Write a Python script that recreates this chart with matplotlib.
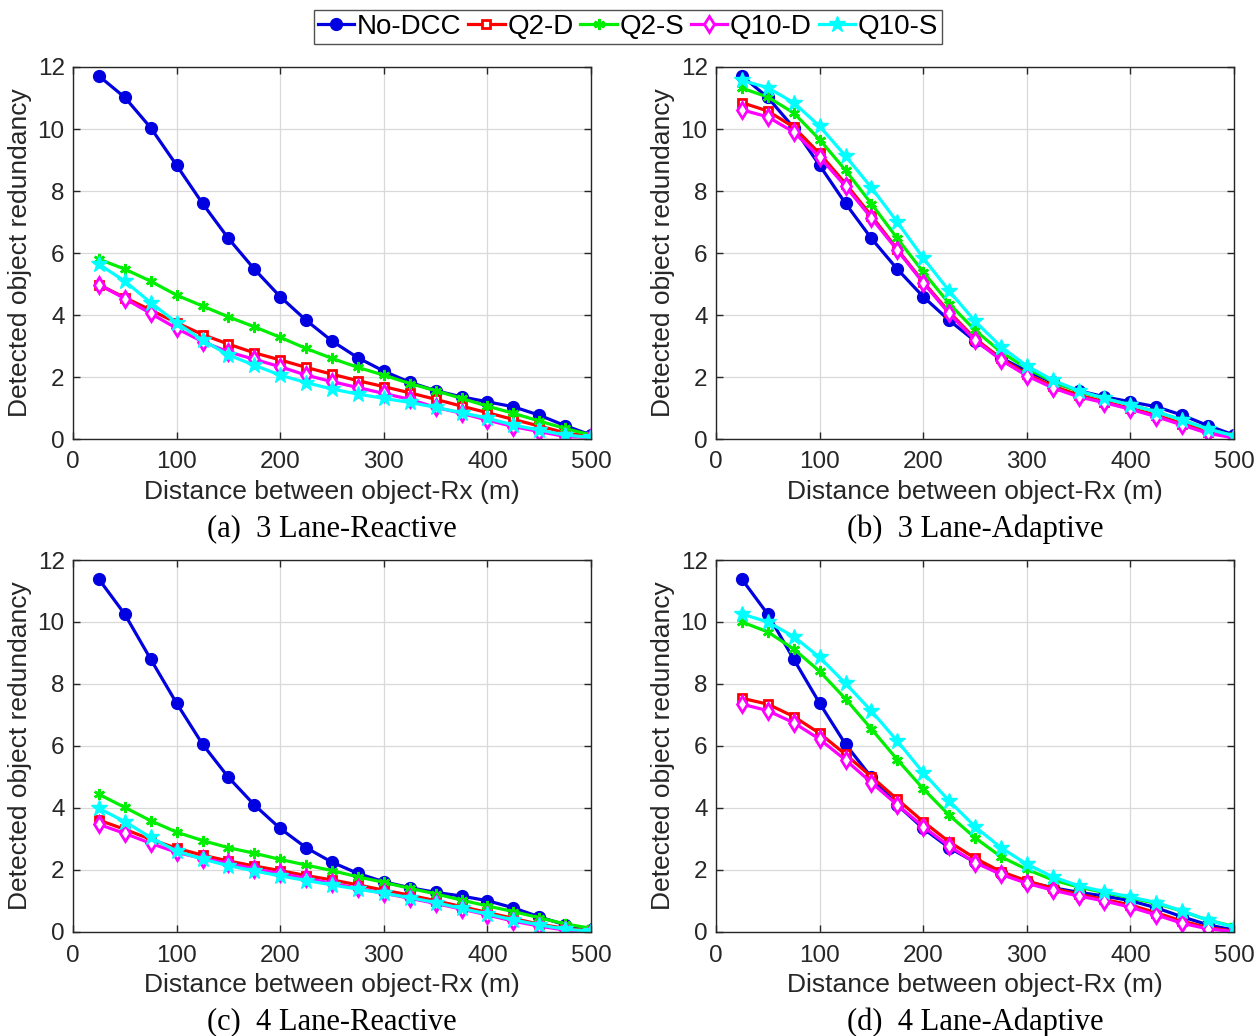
import matplotlib
matplotlib.use("Agg")
import matplotlib.pyplot as plt
from matplotlib.lines import Line2D

distance = [25, 50, 75, 100, 125, 150, 175, 200, 225, 250, 275, 300, 325, 350, 375, 400, 425, 450, 475, 500]
series_names = ["No-DCC", "Q2-D", "Q2-S", "Q10-D", "Q10-S"]

# (a) 3 Lane-Reactive
a_nodcc = [11.71, 11.02, 10.04, 8.83, 7.60, 6.47, 5.48, 4.59, 3.83, 3.16, 2.62, 2.19, 1.83, 1.56, 1.36, 1.20, 1.04, 0.77, 0.43, 0.13]
a_q2d = [4.98, 4.56, 4.16, 3.75, 3.37, 3.06, 2.78, 2.55, 2.31, 2.09, 1.88, 1.69, 1.49, 1.28, 1.06, 0.85, 0.63, 0.42, 0.20, 0.08]
a_q2s = [5.80, 5.48, 5.09, 4.64, 4.29, 3.94, 3.62, 3.28, 2.92, 2.60, 2.31, 2.06, 1.79, 1.56, 1.31, 1.06, 0.83, 0.58, 0.34, 0.13]
a_q10d = [4.98, 4.53, 4.05, 3.57, 3.14, 2.81, 2.57, 2.33, 2.06, 1.85, 1.66, 1.47, 1.28, 1.02, 0.83, 0.61, 0.40, 0.24, 0.08, 0.05]
a_q10s = [5.64, 5.09, 4.40, 3.75, 3.19, 2.71, 2.38, 2.06, 1.82, 1.61, 1.45, 1.31, 1.18, 1.02, 0.85, 0.67, 0.45, 0.29, 0.13, 0.05]

# (b) 3 Lane-Adaptive
b_nodcc = [11.71, 11.02, 10.04, 8.83, 7.60, 6.47, 5.48, 4.59, 3.83, 3.16, 2.62, 2.19, 1.83, 1.56, 1.36, 1.20, 1.04, 0.77, 0.43, 0.13]
b_q2d = [10.85, 10.58, 10.06, 9.21, 8.24, 7.20, 6.12, 5.07, 4.10, 3.24, 2.60, 2.09, 1.71, 1.42, 1.20, 0.99, 0.77, 0.50, 0.24, 0.08]
b_q2s = [11.32, 11.03, 10.52, 9.66, 8.67, 7.59, 6.47, 5.39, 4.37, 3.51, 2.81, 2.28, 1.85, 1.53, 1.31, 1.10, 0.88, 0.61, 0.32, 0.10]
b_q10d = [10.62, 10.39, 9.90, 9.10, 8.15, 7.13, 6.09, 5.04, 4.05, 3.19, 2.55, 2.04, 1.65, 1.36, 1.17, 0.96, 0.72, 0.45, 0.18, 0.04]
b_q10s = [11.57, 11.33, 10.85, 10.09, 9.13, 8.11, 7.00, 5.84, 4.78, 3.80, 2.98, 2.36, 1.90, 1.56, 1.31, 1.10, 0.88, 0.61, 0.32, 0.10]

# (c) 4 Lane-Reactive
c_nodcc = [11.38, 10.25, 8.80, 7.38, 6.06, 4.99, 4.10, 3.34, 2.72, 2.25, 1.89, 1.62, 1.43, 1.28, 1.16, 1.01, 0.78, 0.49, 0.23, 0.06]
c_q2d = [3.61, 3.31, 2.99, 2.70, 2.48, 2.29, 2.13, 1.98, 1.82, 1.68, 1.52, 1.35, 1.19, 1.01, 0.82, 0.63, 0.44, 0.25, 0.12, 0.04]
c_q2s = [4.44, 4.02, 3.59, 3.22, 2.95, 2.72, 2.54, 2.34, 2.16, 1.98, 1.78, 1.60, 1.41, 1.23, 1.03, 0.84, 0.66, 0.46, 0.26, 0.12]
c_q10d = [3.47, 3.18, 2.86, 2.57, 2.37, 2.22, 2.03, 1.89, 1.73, 1.57, 1.41, 1.25, 1.09, 0.92, 0.74, 0.55, 0.35, 0.19, 0.06, 0.01]
c_q10s = [3.99, 3.56, 3.05, 2.61, 2.35, 2.14, 1.97, 1.81, 1.66, 1.52, 1.38, 1.25, 1.11, 0.95, 0.76, 0.58, 0.39, 0.23, 0.09, 0.03]

# (d) 4 Lane-Adaptive
d_nodcc = [11.38, 10.25, 8.80, 7.38, 6.06, 4.99, 4.10, 3.34, 2.72, 2.25, 1.89, 1.62, 1.43, 1.28, 1.16, 1.01, 0.78, 0.49, 0.23, 0.06]
d_q2d = [7.54, 7.35, 6.95, 6.41, 5.73, 5.01, 4.28, 3.56, 2.91, 2.38, 1.95, 1.65, 1.41, 1.22, 1.05, 0.87, 0.62, 0.35, 0.14, 0.03]
d_q2s = [10.00, 9.68, 9.13, 8.41, 7.52, 6.55, 5.56, 4.62, 3.77, 3.04, 2.43, 2.02, 1.68, 1.45, 1.27, 1.10, 0.92, 0.67, 0.38, 0.18]
d_q10d = [7.35, 7.14, 6.75, 6.22, 5.55, 4.82, 4.10, 3.40, 2.77, 2.24, 1.86, 1.57, 1.35, 1.16, 1.00, 0.80, 0.55, 0.28, 0.10, 0.01]
d_q10s = [10.26, 10.00, 9.53, 8.86, 8.02, 7.13, 6.16, 5.14, 4.23, 3.40, 2.72, 2.19, 1.78, 1.49, 1.30, 1.13, 0.95, 0.68, 0.38, 0.16]

captions = ["(a)  3 Lane-Reactive", "(b)  3 Lane-Adaptive", "(c)  4 Lane-Reactive", "(d)  4 Lane-Adaptive"]
panels = [
    [a_nodcc, a_q2d, a_q2s, a_q10d, a_q10s],
    [b_nodcc, b_q2d, b_q2s, b_q10d, b_q10s],
    [c_nodcc, c_q2d, c_q2s, c_q10d, c_q10s],
    [d_nodcc, d_q2d, d_q2s, d_q10d, d_q10s],
]
xticks = [0, 100, 200, 300, 400, 500]
yticks = [0, 2, 4, 6, 8, 10, 12]

styles = [
    dict(color="#0000E0", marker="o", markersize=8.5, markerfacecolor="#0000E0", markeredgecolor="#0000E0"),
    dict(color="#FF0000", marker="s", markersize=6, markerfacecolor="white", markeredgecolor="#FF0000", markeredgewidth=2),
    dict(color="#00EE00", marker=(6, 2, 0), markersize=8, markeredgecolor="#00EE00", markeredgewidth=1.8),
    dict(color="#FF00FF", marker="d", markersize=8, markerfacecolor="white", markeredgecolor="#FF00FF", markeredgewidth=2),
    dict(color="#00FFFF", marker="*", markersize=12, markerfacecolor="#00FFFF", markeredgecolor="#00FFFF"),
]

W, H = 1255, 1036
fig = plt.figure(figsize=(W / 100, H / 100), dpi=100)
sans = "Liberation Sans"
serif = "Liberation Serif"

lefts = [73, 716, 73, 716]
bottoms = [439, 439, 932, 932]
aw, ah = 518, 372

for i, (vals, cap) in enumerate(zip(panels, captions)):
    ax = fig.add_axes([lefts[i] / W, (H - bottoms[i]) / H, aw / W, ah / H])
    for v, st, nm in zip(vals, styles, series_names):
        ax.plot(distance, v, linewidth=2.3, label=nm, **st)
    ax.set_xlim(0, 500)
    ax.set_ylim(0, 12)
    ax.set_xticks(xticks)
    ax.set_yticks(yticks)
    ax.grid(True, color="#D9D9D9", linewidth=0.9)
    ax.set_axisbelow(True)
    ax.tick_params(direction="in", top=True, right=True, length=5, width=1, colors="#262626",
                   labelsize=17.5, pad=6)
    ax.tick_params(axis="x", pad=9)
    for lab in ax.get_xticklabels() + ax.get_yticklabels():
        lab.set_fontfamily(sans)
    for sp in ax.spines.values():
        sp.set_color("#262626")
        sp.set_linewidth(1.0)
    ax.set_xlabel("Distance between object-Rx (m)", fontsize=19, fontfamily=sans, color="#262626", labelpad=5)
    ax.set_ylabel("Detected object redundancy", fontsize=19, fontfamily=sans, color="#262626", labelpad=4)
    cx = (lefts[i] + aw / 2) / W
    cy = (H - (bottoms[i] + 90)) / H
    fig.text(cx, cy, cap, ha="center", va="center", fontsize=22, fontfamily=serif, color="black")

handles = [Line2D([0], [0], linewidth=2.3, **st) for st in styles]
leg = fig.legend(handles, series_names, loc="upper center", bbox_to_anchor=(628 / W, 1 - 10 / H),
                 ncol=5, frameon=True, fancybox=False, edgecolor="#262626",
                 prop={"family": sans, "size": 20}, handlelength=1.3, handletextpad=0.1,
                 columnspacing=0.25, borderpad=0.15, borderaxespad=0)
leg.get_frame().set_linewidth(1.0)

fig.savefig("out.png", dpi=100, facecolor="white")
